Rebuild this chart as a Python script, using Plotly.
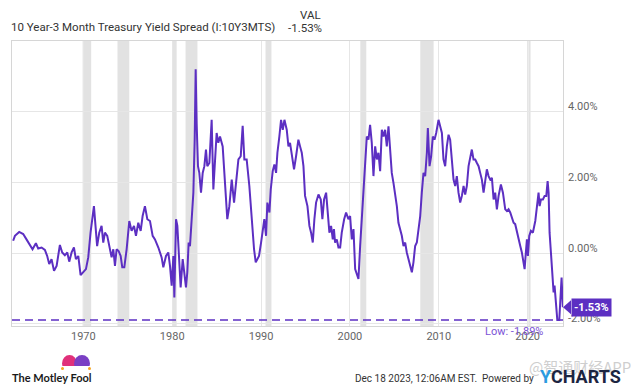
import plotly.graph_objects as go

# ---------------- data ----------------
years = [1962.10, 1962.30, 1962.78, 1963.23, 1963.60, 1964.00, 1964.28, 1964.66, 1964.92, 1965.30,
         1965.67, 1965.93, 1966.16, 1966.42, 1966.70, 1966.99, 1967.36, 1967.62, 1967.92, 1968.19,
         1968.41, 1968.68, 1968.94, 1969.16, 1969.43, 1969.69, 1969.99, 1970.29, 1970.55, 1970.81,
         1971.19, 1971.40, 1971.55, 1971.79, 1972.05, 1972.24, 1972.43, 1972.69, 1972.92, 1973.18,
         1973.37, 1973.56, 1973.74, 1973.97, 1974.20, 1974.38, 1974.61, 1974.87, 1975.17, 1975.43,
         1975.70, 1975.92, 1976.18, 1976.45, 1976.67, 1976.93, 1977.20, 1977.50, 1977.80, 1978.06,
         1978.44, 1978.81, 1979.00, 1979.30, 1979.56, 1979.75, 1979.94, 1980.13, 1980.24, 1980.43,
         1980.58, 1980.80, 1980.95, 1981.18, 1981.33, 1981.55, 1981.70, 1981.85, 1982.00, 1982.19,
         1982.38, 1982.53, 1982.64, 1982.75, 1982.90, 1983.05, 1983.24, 1983.43, 1983.62, 1983.80,
         1983.95, 1984.18, 1984.44, 1984.63, 1984.82, 1985.00, 1985.19, 1985.38, 1985.68, 1985.94,
         1986.20, 1986.43, 1986.70, 1986.96, 1987.26, 1987.45, 1987.71, 1987.93, 1988.12, 1988.38,
         1988.68, 1988.95, 1989.21, 1989.40, 1989.58, 1989.77, 1990.00, 1990.19, 1990.37, 1990.56,
         1990.71, 1990.94, 1991.09, 1991.31, 1991.50, 1991.69, 1991.84, 1992.06, 1992.25, 1992.44,
         1992.63, 1992.89, 1993.08, 1993.26, 1993.45, 1993.71, 1993.94, 1994.20, 1994.39, 1994.58,
         1994.77, 1994.95, 1995.22, 1995.44, 1995.63, 1995.82, 1996.00, 1996.19, 1996.46, 1996.72,
         1996.90, 1997.09, 1997.32, 1997.51, 1997.69, 1997.88, 1998.07, 1998.20, 1998.33, 1998.52,
         1998.71, 1998.90, 1999.08, 1999.35, 1999.57, 1999.83, 2000.02, 2000.21, 2000.40, 2000.59,
         2000.77, 2000.96, 2001.15, 2001.34, 2001.52, 2001.71, 2001.90, 2002.09, 2002.27, 2002.46,
         2002.65, 2002.84, 2003.03, 2003.21, 2003.40, 2003.59, 2003.78, 2003.96, 2004.15, 2004.34,
         2004.53, 2004.71, 2004.90, 2005.09, 2005.28, 2005.46, 2005.65, 2005.84, 2006.03, 2006.22,
         2006.40, 2006.59, 2006.78, 2006.97, 2007.15, 2007.34, 2007.53, 2007.72, 2007.91, 2008.09,
         2008.28, 2008.47, 2008.66, 2008.77, 2008.96, 2009.14, 2009.33, 2009.52, 2009.71, 2009.97,
         2010.16, 2010.35, 2010.53, 2010.72, 2010.91, 2011.10, 2011.28, 2011.47, 2011.66, 2011.85,
         2012.03, 2012.22, 2012.41, 2012.60, 2012.79, 2012.97, 2013.16, 2013.35, 2013.54, 2013.72,
         2013.91, 2014.10, 2014.29, 2014.48, 2014.66, 2014.85, 2015.04, 2015.23, 2015.41, 2015.60,
         2015.79, 2015.98, 2016.17, 2016.35, 2016.54, 2016.73, 2016.99, 2017.22, 2017.48, 2017.67,
         2017.85, 2018.04, 2018.23, 2018.42, 2018.60, 2018.79, 2018.98, 2019.17, 2019.35, 2019.54,
         2019.66, 2019.77, 2019.92, 2020.03, 2020.18, 2020.37, 2020.59, 2020.86, 2021.05, 2021.23,
         2021.35, 2021.50, 2021.72, 2021.91, 2022.10, 2022.25, 2022.36, 2022.47, 2022.62, 2022.73,
         2022.92, 2023.03, 2023.22, 2023.34, 2023.56, 2023.71, 2023.82, 2023.96]

spread = [0.35, 0.49, 0.60, 0.54, 0.39, 0.20, 0.11, 0.28, 0.13, 0.16,
          0.09, -0.08, -0.31, -0.17, -0.50, -0.36, 0.23, 0.02, -0.06, 0.02,
          -0.24, 0.02, 0.16, -0.17, -0.08, -0.62, -0.54, -0.45, -0.12, 0.58,
          1.33, 0.49, 0.20, 0.58, 0.77, 0.30, 0.58, 0.49, 0.20, -0.12,
          0.11, -0.36, 0.11, 0.06, -0.08, -0.40, -0.40, 0.11, 0.91, 0.63,
          0.77, 0.49, 0.86, 0.63, 1.05, 1.33, 0.96, 0.91, 0.49, 0.39,
          0.16, -0.12, -0.40, -0.08, 0.02, -0.36, -0.92, -0.08, -1.25, 0.96,
          0.77, -0.45, -0.97, -0.17, -0.54, -0.97, -0.54, 0.30, 0.20, 1.05,
          1.71, 3.21, 5.20, 3.68, 2.46, 2.27, 1.71, 2.27, 2.46, 2.93,
          2.46, 2.55, 3.77, 1.80, 2.74, 3.40, 3.12, 3.30, 3.02, 2.08,
          0.96, 1.33, 2.08, 1.43, 2.27, 2.65, 2.74, 3.60, 2.65, 2.65,
          1.90, 0.86, 0.11, -0.26, -0.17, -0.08, 0.30, 0.58, 0.96, 0.49,
          1.43, 1.15, 1.80, 2.32, 2.51, 2.27, 2.84, 3.30, 3.77, 3.49,
          3.77, 3.49, 3.02, 3.12, 2.74, 2.37, 2.74, 3.21, 3.02, 2.84,
          2.46, 1.62, 1.33, 0.77, 0.58, 0.30, 0.96, 1.43, 1.66, 1.52,
          0.96, 1.52, 1.71, 1.05, 0.58, 0.77, 0.39, 0.68, 0.30, 0.39,
          0.16, 0.16, 0.58, 0.96, 1.15, 0.96, 1.05, 0.39, 0.68, -0.45,
          -0.59, -0.73, 0.20, 1.05, 1.80, 2.46, 3.30, 3.21, 3.63, 3.12,
          2.18, 3.02, 2.65, 2.84, 2.32, 3.49, 3.30, 3.49, 3.02, 3.59,
          3.02, 2.27, 1.99, 1.71, 1.33, 0.86, 0.68, 0.49, 0.20, 0.30,
          0.02, -0.17, -0.31, -0.54, -0.26, 0.20, 0.30, 0.77, 1.05, 1.71,
          2.27, 2.18, 2.84, 3.54, 2.46, 2.74, 3.30, 3.21, 3.40, 3.77,
          3.59, 3.40, 2.65, 2.46, 3.02, 3.35, 3.21, 2.65, 2.08, 1.90,
          2.18, 1.71, 1.43, 1.62, 1.90, 1.66, 1.90, 2.46, 2.74, 2.93,
          2.65, 2.65, 2.55, 2.46, 2.27, 2.08, 1.71, 2.08, 2.37, 2.18,
          2.08, 2.13, 1.52, 1.71, 1.24, 1.62, 1.94, 1.71, 1.24, 1.19,
          1.24, 1.15, 1.00, 0.86, 0.82, 0.58, 0.39, 0.20, 0.02, -0.22,
          -0.45, -0.08, 0.39, -0.08, 0.49, 0.63, 0.58, 0.91, 1.33, 1.71,
          1.33, 1.52, 1.52, 1.62, 1.62, 2.04, 1.71, 0.58, 0.02, -0.54,
          -1.11, -0.92, -1.58, -1.89, -1.89, -1.11, -0.69, -1.53]

recession_start = [1969.92, 1973.84, 1980.00, 1981.50, 1990.50, 2001.17, 2007.92, 2020.08]
recession_end = [1970.88, 1975.17, 1980.50, 1982.84, 1991.17, 2001.84, 2009.42, 2020.33]

x_ticks = [1970, 1980, 1990, 2000, 2010, 2020]
y_ticks = [-2, 0, 2, 4]
x_range = [1961.97, 2023.98]
y_range = [-2.06, 6.0]

low_value = min(spread)
last_value = spread[-1]

series_name = "10 Year-3 Month Treasury Yield Spread (I:10Y3MTS)"

PURPLE = "#5c2fc2"
FONT = "Roboto"

# window geometry (pixels); page body has an 8px default margin
OFF = 8
WIN_W, WIN_H = 641, 387
W, H = WIN_W - OFF, WIN_H - OFF
PLOT_L, PLOT_R, PLOT_T, PLOT_B = 12, 563, 41, 326   # plot box in window pixels
ML, MR, MT, MB = PLOT_L - OFF, WIN_W - PLOT_R, PLOT_T - OFF, WIN_H - PLOT_B
PW, PH = PLOT_R - PLOT_L, PLOT_B - PLOT_T


def px(xpix):
    return (xpix - PLOT_L) / PW


def py(ypix):
    return (PLOT_B - ypix) / PH


fig = go.Figure()
fig.add_trace(go.Scatter(x=years, y=spread, mode="lines",
                         line=dict(color=PURPLE, width=2), hoverinfo="skip",
                         showlegend=False))

for s, e in zip(recession_start, recession_end):
    fig.add_vrect(x0=s, x1=e, fillcolor="#e2e2e2", line_width=0, layer="below", opacity=1)

# low line
fig.add_shape(type="line", xref="paper", x0=0, x1=1, yref="y", y0=low_value, y1=low_value,
              line=dict(color=PURPLE, width=1.5, dash="8px,5px"))
fig.add_annotation(xref="paper", x=px(514), yref="paper", y=py(331), xanchor="center", yanchor="middle",
                   text=f"Low: {low_value:.2f}%", showarrow=False,
                   font=dict(family=FONT, size=11, color="#7b52d6"))

# y tick labels (drawn slightly above gridlines, as in the original)
for v in y_ticks:
    fig.add_annotation(xref="paper", x=1, xanchor="left", xshift=3, yref="y", y=v,
                       yanchor="middle", yshift=5, text=f"{v:.2f}%", showarrow=False,
                       font=dict(family=FONT, size=11, color="#666666"))

# last value badge
tri_w = 8 / PW
tri_h = 7 * (y_range[1] - y_range[0]) / PH
fig.add_shape(type="path", xref="paper", yref="y",
              path=f"M 1.0,{last_value} L {1 + tri_w},{last_value + tri_h} L {1 + tri_w},{last_value - tri_h} Z",
              fillcolor=PURPLE, line=dict(width=0))
fig.add_annotation(xref="paper", x=1 + tri_w, xanchor="left", yref="y", y=last_value, yanchor="middle",
                   text=f"<b>{last_value:.2f}%</b>", showarrow=False,
                   bgcolor=PURPLE, borderpad=2,
                   font=dict(family=FONT, size=11, color="white"))

# header
fig.add_annotation(xref="paper", yref="paper", x=px(9), y=py(27), xanchor="left", yanchor="middle",
                   text=series_name, showarrow=False,
                   font=dict(family=FONT, size=11.5, color="#333333"))
fig.add_annotation(xref="paper", yref="paper", x=px(323), y=py(15), xanchor="right", yanchor="middle",
                   text="VAL", showarrow=False,
                   font=dict(family=FONT, size=11.5, color="#333333"))
fig.add_annotation(xref="paper", yref="paper", x=px(324), y=py(28), xanchor="right", yanchor="middle",
                   text=f"{last_value:.2f}%", showarrow=False,
                   font=dict(family=FONT, size=11.5, color="#333333"))

# footer
fig.add_annotation(xref="paper", yref="paper", x=px(10), y=py(377), xanchor="left", yanchor="middle",
                   text="<b>The Motley Fool</b>", showarrow=False,
                   font=dict(family="Lato", size=11, color="#1a1a1a"))
# jester hat (logo decoration)
fig.add_shape(type="circle", xref="paper", yref="paper", x0=px(62), x1=px(77), y0=py(372), y1=py(355),
              fillcolor="#e0307a", line_width=0)
fig.add_shape(type="circle", xref="paper", yref="paper", x0=px(74), x1=px(90), y0=py(372), y1=py(355),
              fillcolor="#7a3fc4", line_width=0)
fig.add_shape(type="rect", xref="paper", yref="paper", x0=px(61), x1=px(91), y0=py(373), y1=py(366),
              fillcolor="white", line_width=0)
fig.add_shape(type="circle", xref="paper", yref="paper", x0=px(61), x1=px(64), y0=py(370), y1=py(367),
              fillcolor="#f5a623", line_width=0)
fig.add_shape(type="circle", xref="paper", yref="paper", x0=px(88), x1=px(91), y0=py(370), y1=py(367),
              fillcolor="#f5a623", line_width=0)

fig.add_annotation(xref="paper", yref="paper", x=px(580), y=py(366), xanchor="center", yanchor="middle",
                   text="@智通财经APP", showarrow=False,
                   font=dict(family="Noto Sans CJK SC", size=15, color="rgba(190,190,190,0.75)"))
fig.add_annotation(xref="paper", yref="paper", x=px(536), y=py(378), xanchor="right", yanchor="middle",
                   text="Dec 18 2023, 12:06AM EST.  Powered by", showarrow=False,
                   font=dict(family=FONT, size=10, color="#333333"))
fig.add_annotation(xref="paper", yref="paper", x=px(538), y=py(376), xanchor="left", yanchor="middle",
                   text='<b><span style="color:#2b9be0">Y</span>CHARTS</b>', showarrow=False,
                   font=dict(family=FONT, size=18, color="#1c2541"))

fig.update_layout(
    width=W, height=H,
    margin=dict(l=ML, r=MR, t=MT, b=MB, autoexpand=False),
    paper_bgcolor="white", plot_bgcolor="white",
    font=dict(family=FONT, size=11, color="#666666"),
    showlegend=False,
    xaxis=dict(range=x_range, tickvals=x_ticks, showgrid=True, gridcolor="#e6e6e6",
               zeroline=False, showline=True, mirror=True, linecolor="#d6d6d6", linewidth=1,
               ticks="", tickfont=dict(size=11, color="#666666")),
    yaxis=dict(range=y_range, tickvals=y_ticks, side="right", showgrid=True, gridcolor="#e6e6e6",
               zeroline=False, showline=True, mirror=True, linecolor="#d6d6d6", linewidth=1,
               ticks="", showticklabels=False),
)

fig.write_html("out.html")
